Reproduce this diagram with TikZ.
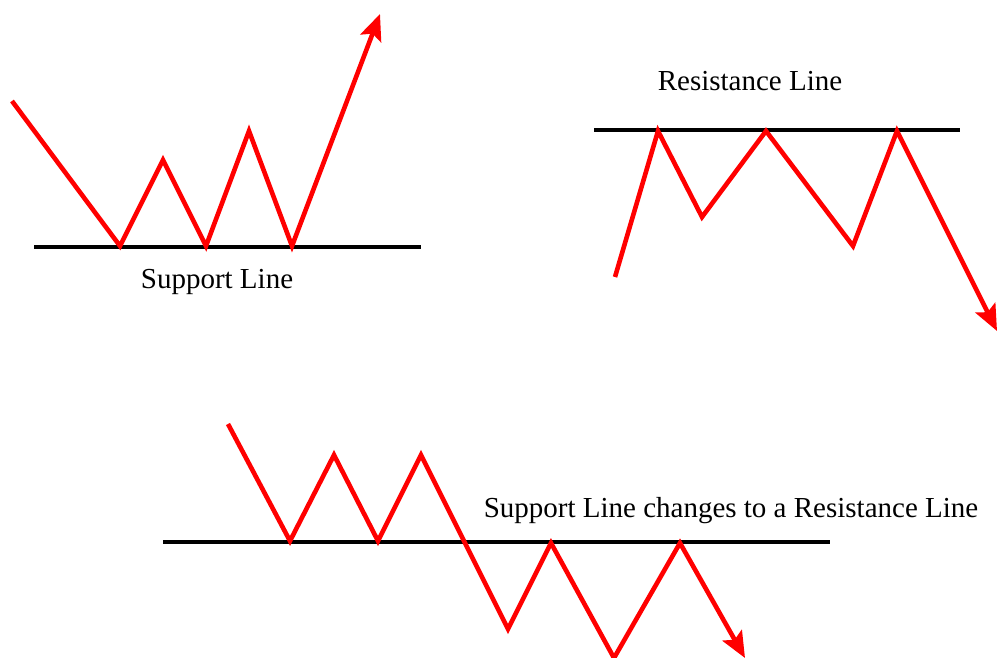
\documentclass[tikz,border=0pt]{standalone}
\usepackage{fontspec}
\setmainfont{Liberation Serif}
\usetikzlibrary{arrows.meta}
\begin{document}
\begin{tikzpicture}[x=1pt,y=-1pt,
  level/.style={line width=4.5pt},
  trend/.style={red, line width=4.6pt, line join=miter},
  tip/.style={-{Stealth[length=26pt,width=22pt,inset=5pt]}},
  lbl/.style={font=\fontsize{29}{33}\selectfont, inner sep=0pt}]
\useasboundingbox (0,0) rectangle (997,658);
% top-left support
\coordinate (s1a) at (34,247); \coordinate (s1b) at (421,247);
\draw[level] (s1a) -- (s1b);
\node[lbl] (t1) at (217,282) {Support Line};
\coordinate (a0) at (12,101); \coordinate (a1) at (120,246); \coordinate (a2) at (163,160);
\coordinate (a3) at (206,246); \coordinate (a4) at (249,131); \coordinate (a5) at (292,246);
\coordinate (a6) at (380,14);
\draw[trend,tip] (a0) -- (a1) -- (a2) -- (a3) -- (a4) -- (a5) -- (a6);
% top-right resistance
\coordinate (r1a) at (594,130); \coordinate (r1b) at (960,130);
\draw[level] (r1a) -- (r1b);
\node[lbl] (t2) at (750,81) {Resistance Line};
\coordinate (b0) at (615,277); \coordinate (b1) at (658,131); \coordinate (b2) at (702,217);
\coordinate (b3) at (766,131); \coordinate (b4) at (853,246); \coordinate (b5) at (897,131);
\coordinate (b6) at (997,331);
\draw[trend,tip] (b0) -- (b1) -- (b2) -- (b3) -- (b4) -- (b5) -- (b6);
% bottom
\coordinate (c1a) at (163,542); \coordinate (c1b) at (830,542);
\draw[level] (c1a) -- (c1b);
\node[lbl] (t3) at (731,511) {Support Line changes to a Resistance Line};
\coordinate (c0) at (228,424); \coordinate (c1) at (290,541); \coordinate (c2) at (334,455);
\coordinate (c3) at (378,541); \coordinate (c4) at (421,455); \coordinate (c5) at (508,629);
\coordinate (c6) at (551,543); \coordinate (c7) at (614,658); \coordinate (c8) at (680,543);
\coordinate (c9) at (745,658);
\draw[trend,tip] (c0) -- (c1) -- (c2) -- (c3) -- (c4) -- (c5) -- (c6) -- (c7) -- (c8) -- (c9);
\end{tikzpicture}
\end{document}
